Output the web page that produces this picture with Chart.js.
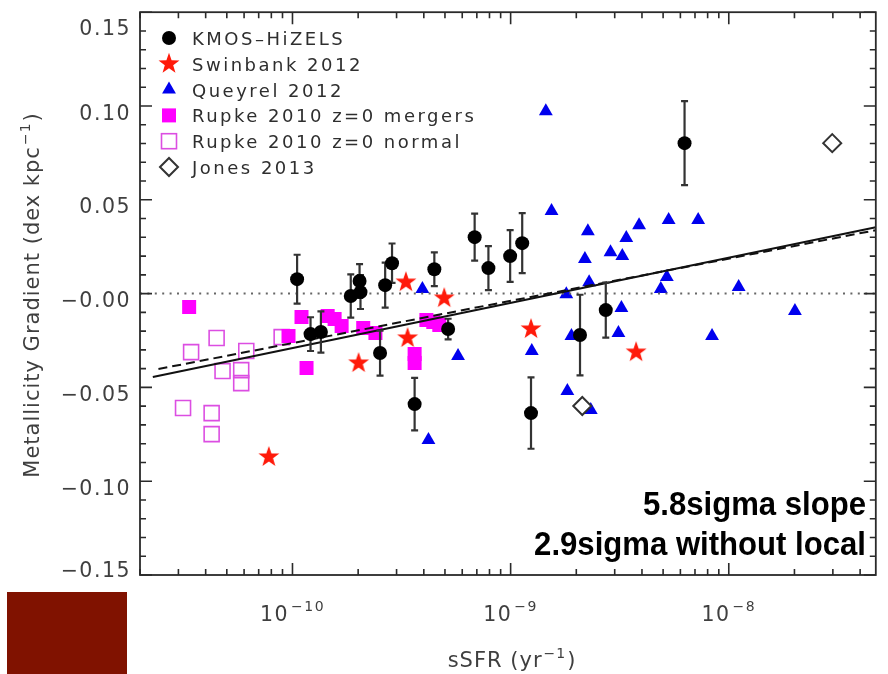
<!DOCTYPE html>
<html>
<head>
<meta charset="utf-8">
<script src="https://cdn.jsdelivr.net/npm/chart.js@4.4.0/dist/chart.umd.min.js"></script>
<style>
  html, body { margin: 0; padding: 0; background: #fff; }
  #wrap { width: 888px; height: 674px; }
</style>
</head>
<body>
<div id="wrap"><canvas id="chart" width="888" height="674"></canvas></div>
<script>
// KMOS-HiZELS galaxies (sSFR in yr^-1, gradient in dex/kpc, 1-sigma error)
const kmosSsfr = [1.05e-10, 1.21e-10, 1.35e-10, 1.85e-10, 2.03e-10, 2.05e-10, 2.52e-10, 2.66e-10, 2.86e-10, 3.63e-10,
                  4.47e-10, 5.17e-10, 6.84e-10, 7.91e-10, 9.95e-10, 1.13e-9, 1.24e-9, 2.08e-9, 2.73e-9, 6.27e-9];
const kmosGrad = [0.0077, -0.0216, -0.0205, -0.0013, 0.0067, 0.0008, -0.0317, 0.0045, 0.0162, -0.0589,
                  0.0130, -0.0189, 0.0301, 0.0136, 0.0200, 0.0269, -0.0637, -0.0221, -0.0088, 0.0802];
const kmosErr  = [0.013, 0.009, 0.011, 0.0115, 0.009, 0.009, 0.012, 0.012, 0.0105, 0.014,
                  0.009, 0.0055, 0.0125, 0.0117, 0.0138, 0.016, 0.019, 0.0215, 0.0147, 0.0224];

// Swinbank 2012
const swinSsfr = [7.79e-11, 2.01e-10, 3.31e-10, 3.37e-10, 4.96e-10, 1.24e-9, 3.76e-9];
const swinGrad = [-0.0871, -0.0370, 0.0061, -0.0237, -0.0024, -0.0189, -0.0312];

// Queyrel 2012
const queySsfr = [1.45e-9, 1.54e-9, 2.26e-9, 3.88e-9, 5.30e-9, 7.24e-9, 3.39e-9, 2.87e-9, 3.25e-9, 2.19e-9,
                  2.29e-9, 1.80e-9, 5.20e-9, 4.88e-9, 1.11e-8, 3.22e-9, 3.12e-9, 1.90e-9, 1.25e-9, 8.38e-9,
                  2.01e-8, 1.82e-9, 2.33e-9, 3.94e-10, 5.74e-10, 4.20e-10];
const queyGrad = [0.0972, 0.0440, 0.0333, 0.0365, 0.0392, 0.0392, 0.0296, 0.0221, 0.0200, 0.0184,
                  0.0061, -0.0003, 0.0088, 0.0024, 0.0035, -0.0077, -0.0210, -0.0226, -0.0306, -0.0226,
                  -0.0093, -0.0519, -0.0621, 0.0024, -0.0333, -0.0781];

// Rupke 2010, z=0 mergers
const rupMSsfr = [3.36e-11, 9.59e-11, 1.10e-10, 1.16e-10, 1.45e-10, 1.56e-10, 1.68e-10, 2.11e-10, 2.40e-10,
                  3.63e-10, 3.63e-10, 4.11e-10, 4.42e-10, 4.71e-10];
const rupMGrad = [-0.0072, -0.0226, -0.0125, -0.0397, -0.0120, -0.0136, -0.0173, -0.0184, -0.0210,
                  -0.0322, -0.0370, -0.0141, -0.0152, -0.0168];

// Rupke 2010, z=0 normal
const rupNSsfr = [3.15e-11, 3.43e-11, 4.26e-11, 4.26e-11, 4.49e-11, 4.78e-11, 5.82e-11, 5.82e-11, 6.14e-11, 8.92e-11];
const rupNGrad = [-0.0610, -0.0312, -0.0637, -0.0749, -0.0237, -0.0413, -0.0408, -0.0477, -0.0306, -0.0232];

// Jones 2013
const jonesSsfr = [2.98e-8, 2.13e-9];
const jonesGrad = [0.0802, -0.0599];

// best fits (all data: solid, second fit: dashed) and the zero line
const fitSsfr = [2.29e-11, 4.72e-8];
const fitGrad = [-0.0445, 0.0354];
const fit2Ssfr = [2.43e-11, 4.72e-8];
const fit2Grad = [-0.0402, 0.0338];
const zeroSsfr = [2e-11, 4.72e-8];
const zeroGrad = [0, 0];

// axes
const xMin = 2e-11, xMax = 4.72e-8;
const yMin = -0.15, yMax = 0.15;
const xTickValues = [1e-10, 1e-9, 1e-8];
const xTickExps = ['\u221210', '\u22129', '\u22128'];
const yTickValues = [-0.15, -0.10, -0.05, 0, 0.05, 0.10, 0.15];
const yTickLabels = ['\u22120.15', '\u22120.10', '\u22120.05', '\u22120.00', '0.05', '0.10', '0.15'];

const legendNames = ['KMOS\u2013HiZELS', 'Swinbank 2012', 'Queyrel 2012', 'Rupke 2010 z=0 mergers', 'Rupke 2010 z=0 normal', 'Jones 2013'];
const notes = ['5.8sigma slope', '2.9sigma without local'];

const RED = '#ff1a0a', BLUE = '#0000ee', MAGENTA = '#ff00ff', PINK = '#dc4ee2';

function toPoints(xs, ys) {
    return xs.map((v, i) => ({ x: v, y: ys[i] }));
}

// filled five-point star used as a point style
function makeStar(outer, inner, color) {
    const c = document.createElement('canvas');
    const s = Math.ceil(outer * 2 + 2);
    c.width = s; c.height = s;
    const g = c.getContext('2d');
    g.translate(s / 2, s / 2);
    starPath(g, outer, inner);
    g.fillStyle = color;
    g.fill();
    return c;
}

function starPath(g, outer, inner) {
    g.beginPath();
    for (let i = 0; i < 10; i++) {
        const r = i % 2 ? inner : outer;
        const a = -Math.PI / 2 + i * Math.PI / 5;
        g.lineTo(r * Math.cos(a), r * Math.sin(a));
    }
    g.closePath();
}

const starImg = makeStar(11, 4.4, RED);

function setSpacing(ctx, px) {
    if ('letterSpacing' in ctx) ctx.letterSpacing = px + 'px';
}

// text made of pieces, some raised as superscripts
function drawRich(ctx, parts, cx, base, family) {
    let total = 0;
    parts.forEach(p => {
        ctx.font = p.size + 'px ' + family;
        p.w = ctx.measureText(p.t).width;
        total += p.w + (p.gap || 0);
    });
    let x = cx - total / 2;
    parts.forEach(p => {
        ctx.font = p.size + 'px ' + family;
        ctx.fillText(p.t, x, base - (p.rise || 0));
        x += p.w + (p.gap || 0);
    });
}

function drawMarker(ctx, kind, x, y) {
    ctx.save();
    if (kind === 'circle') {
        ctx.beginPath(); ctx.arc(x, y, 7, 0, Math.PI * 2);
        ctx.fillStyle = '#000'; ctx.fill();
    } else if (kind === 'star') {
        ctx.translate(x, y); starPath(ctx, 11, 4.4);
        ctx.fillStyle = RED; ctx.fill();
    } else if (kind === 'triangle') {
        const r = 8;
        ctx.beginPath();
        ctx.moveTo(x, y - r);
        ctx.lineTo(x + r * Math.sin(2 * Math.PI / 3), y + r / 2);
        ctx.lineTo(x - r * Math.sin(2 * Math.PI / 3), y + r / 2);
        ctx.closePath();
        ctx.fillStyle = BLUE; ctx.fill();
    } else if (kind === 'square') {
        ctx.fillStyle = MAGENTA; ctx.fillRect(x - 7, y - 7, 14, 14);
    } else if (kind === 'open') {
        ctx.strokeStyle = PINK; ctx.lineWidth = 1.6; ctx.strokeRect(x - 7.5, y - 7.5, 15, 15);
    } else if (kind === 'diamond') {
        ctx.beginPath();
        ctx.moveTo(x - 9, y); ctx.lineTo(x, y - 9); ctx.lineTo(x + 9, y); ctx.lineTo(x, y + 9);
        ctx.closePath();
        ctx.strokeStyle = '#333'; ctx.lineWidth = 2; ctx.stroke();
    }
    ctx.restore();
}

// vertical error bars with caps, drawn just under the KMOS points
const errorBars = {
    id: 'errorBars',
    beforeDatasetDraw(chart, args) {
        if (chart.data.datasets[args.index].id !== 'kmos') return;
        const { ctx, scales: { x, y } } = chart;
        ctx.save();
        ctx.strokeStyle = '#333';
        ctx.lineWidth = 2.2;
        kmosGrad.forEach((g, i) => {
            const px = x.getPixelForValue(kmosSsfr[i]);
            const top = y.getPixelForValue(g + kmosErr[i]);
            const bot = y.getPixelForValue(g - kmosErr[i]);
            ctx.beginPath();
            ctx.moveTo(px, top); ctx.lineTo(px, bot);
            ctx.moveTo(px - 3.5, top); ctx.lineTo(px + 3.5, top);
            ctx.moveTo(px - 3.5, bot); ctx.lineTo(px + 3.5, bot);
            ctx.stroke();
        });
        ctx.restore();
    }
};

// IDL-style frame: inward ticks on all four sides, labels, legend, notes
const frame = {
    id: 'frame',
    afterDraw(chart) {
        const { ctx, chartArea: a, scales: { x, y } } = chart;
        ctx.save();
        ctx.strokeStyle = '#2a2a2a';
        ctx.lineWidth = 1.8;
        ctx.strokeRect(a.left, a.top, a.right - a.left, a.bottom - a.top);

        ctx.lineWidth = 1.6;
        ctx.beginPath();
        for (let d = -11; d <= -8; d++) {
            for (let m = 1; m <= 9; m++) {
                const v = m * Math.pow(10, d);
                if (v < xMin || v > xMax) continue;
                const px = x.getPixelForValue(v);
                const len = m === 1 ? 12 : 6;
                ctx.moveTo(px, a.bottom); ctx.lineTo(px, a.bottom - len);
                ctx.moveTo(px, a.top); ctx.lineTo(px, a.top + len);
            }
        }
        for (let k = -15; k <= 15; k++) {
            const py = y.getPixelForValue(k / 100);
            const len = k % 5 === 0 ? 12 : 6;
            ctx.moveTo(a.left, py); ctx.lineTo(a.left + len, py);
            ctx.moveTo(a.right, py); ctx.lineTo(a.right - len, py);
        }
        ctx.stroke();

        const fam = '"DejaVu Sans"';
        ctx.fillStyle = '#3f3f3f';

        // y tick labels
        setSpacing(ctx, 1.5);
        ctx.font = '20.5px ' + fam;
        ctx.textAlign = 'right';
        yTickValues.forEach((v, i) => {
            let base = y.getPixelForValue(v) + 13.5;
            if (v === yMax) base = 35;
            if (v === yMin) base = 577;
            ctx.fillText(yTickLabels[i], 131, base);
        });

        // x tick labels with superscript exponents
        ctx.textAlign = 'left';
        xTickValues.forEach((v, i) => {
            drawRich(ctx, [
                { t: '10', size: 20.5, gap: 2 },
                { t: xTickExps[i], size: 14, rise: 10 }
            ], x.getPixelForValue(v), 621, fam);
        });

        // axis titles
        setSpacing(ctx, 1);
        drawRich(ctx, [
            { t: 'sSFR (yr', size: 21, gap: 1 },
            { t: '\u22121', size: 14, rise: 9, gap: 1 },
            { t: ')', size: 21 }
        ], 512, 667, fam);

        ctx.save();
        ctx.translate(39, 295);
        ctx.rotate(-Math.PI / 2);
        drawRich(ctx, [
            { t: 'Metallicity Gradient (dex kpc', size: 21, gap: 1 },
            { t: '\u22121', size: 14, rise: 9, gap: 1 },
            { t: ')', size: 21 }
        ], 0, 0, fam);
        ctx.restore();

        // legend
        const kinds = ['circle', 'star', 'triangle', 'square', 'open', 'diamond'];
        setSpacing(ctx, 2.5);
        ctx.font = '18px ' + fam;
        ctx.fillStyle = '#2e2e2e';
        legendNames.forEach((name, i) => {
            const ry = 38 + i * 25.8;
            drawMarker(ctx, kinds[i], 169, ry);
            ctx.fillText(name, 192, ry + 7);
        });

        // significance notes, condensed bold
        setSpacing(ctx, 0);
        ctx.fillStyle = '#000';
        ctx.textAlign = 'right';
        ctx.font = 'bold 34px "Liberation Sans"';
        [515, 555].forEach((base, i) => {
            ctx.save();
            ctx.translate(866, base);
            ctx.scale(0.915, 1);
            ctx.fillText(notes[i], 0, 0);
            ctx.restore();
        });

        // slide accent block
        ctx.fillStyle = '#801200';
        ctx.fillRect(7, 592, 120, 82);
        ctx.restore();
    }
};

const chart = new Chart(document.getElementById('chart'), {
    type: 'scatter',
    data: {
        datasets: [
            {
                id: 'kmos', label: legendNames[0], data: toPoints(kmosSsfr, kmosGrad), order: 1,
                pointStyle: 'circle', pointRadius: 7, backgroundColor: '#000', borderColor: '#000', borderWidth: 0
            },
            {
                label: legendNames[5], data: toPoints(jonesSsfr, jonesGrad), order: 2,
                pointStyle: 'rectRot', pointRadius: 9, backgroundColor: '#fff', borderColor: '#333', borderWidth: 2
            },
            {
                label: legendNames[1], data: toPoints(swinSsfr, swinGrad), order: 3,
                pointStyle: starImg, pointRadius: 11
            },
            {
                label: 'fit', data: toPoints(fitSsfr, fitGrad), order: 4, showLine: true,
                pointRadius: 0, borderColor: '#111', borderWidth: 2
            },
            {
                label: 'fit2', data: toPoints(fit2Ssfr, fit2Grad), order: 4, showLine: true,
                pointRadius: 0, borderColor: '#111', borderWidth: 2, borderDash: [9, 5]
            },
            {
                label: 'zero', data: toPoints(zeroSsfr, zeroGrad), order: 5, showLine: true,
                pointRadius: 0, borderColor: '#666', borderWidth: 2, borderDash: [2, 5.4]
            },
            {
                label: legendNames[2], data: toPoints(queySsfr, queyGrad), order: 6,
                pointStyle: 'triangle', pointRadius: 8, backgroundColor: BLUE, borderColor: BLUE, borderWidth: 0
            },
            {
                label: legendNames[3], data: toPoints(rupMSsfr, rupMGrad), order: 7,
                pointStyle: 'rect', pointRadius: 9.9, backgroundColor: MAGENTA, borderColor: MAGENTA, borderWidth: 0
            },
            {
                label: legendNames[4], data: toPoints(rupNSsfr, rupNGrad), order: 8,
                pointStyle: 'rect', pointRadius: 10.6, backgroundColor: 'rgba(0,0,0,0)', borderColor: PINK, borderWidth: 1.6
            }
        ]
    },
    options: {
        responsive: false,
        animation: false,
        events: [],
        layout: { padding: { left: 140, right: 1, top: 12, bottom: 99 } },
        plugins: { legend: { display: false }, tooltip: { enabled: false } },
        scales: {
            x: { type: 'logarithmic', min: xMin, max: xMax, display: false },
            y: { type: 'linear', min: yMin, max: yMax, display: false }
        }
    },
    plugins: [errorBars, frame]
});
</script>
</body>
</html>
